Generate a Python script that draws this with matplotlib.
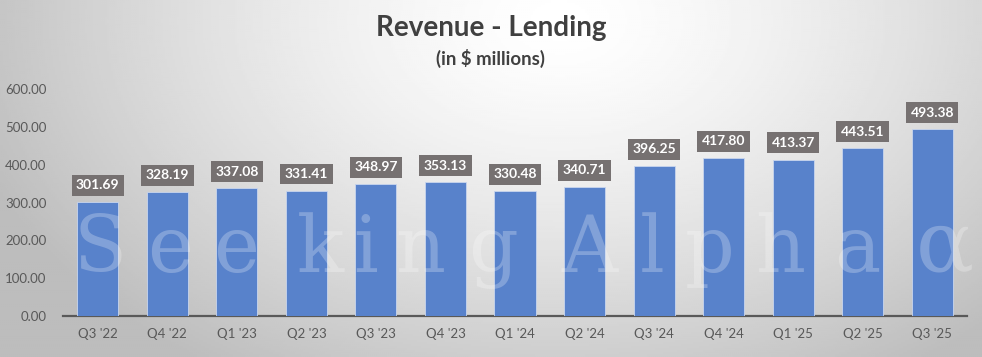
import numpy as np
import matplotlib
matplotlib.use("Agg")
import matplotlib.pyplot as plt

quarters = ["Q3 '22", "Q4 '22", "Q1 '23", "Q2 '23", "Q3 '23", "Q4 '23", "Q1 '24",
            "Q2 '24", "Q3 '24", "Q4 '24", "Q1 '25", "Q2 '25", "Q3 '25"]
revenue = [301.69, 328.19, 337.08, 331.41, 348.97, 353.13, 330.48,
           340.71, 396.25, 417.80, 413.37, 443.51, 493.38]
yticks = [0, 100, 200, 300, 400, 500, 600]

plt.rcParams["font.family"] = ["Lato", "DejaVu Sans"]

fig = plt.figure(figsize=(9.82, 3.57), dpi=100)

# radial grey background, light at the top middle
bg = fig.add_axes([0, 0, 1, 1], zorder=0)
xx, yy = np.meshgrid(np.linspace(0, 982, 491), np.linspace(0, 357, 179))
r = np.sqrt(((xx - 560) / 620) ** 2 + ((yy - 20) / 420) ** 2)
shade = np.clip(1.0 - 0.26 * r ** 1.4, 0.74, 1.0)
bg.imshow(shade, cmap="gray", vmin=0, vmax=1, extent=[0, 982, 357, 0], aspect="auto")
bg.axis("off")

# faint watermark
wm = "Seeking Alpha"
wm_x = [100, 170, 236, 320, 366, 420, 493, 590, 652, 710, 780, 857]
chars = [c for c in wm if c != " "]
for c, x in zip(chars, wm_x):
    fig.text(x / 982, 1 - 272 / 357, c, fontsize=56, family="DejaVu Serif",
             color="white", alpha=0.25, ha="center", va="baseline", zorder=5)
fig.text(945 / 982, 1 - 272 / 357, "\u03b1", fontsize=62, family="DejaVu Serif",
         color="white", alpha=0.25, ha="center", va="baseline", zorder=5)

ax = fig.add_axes([63 / 982, 1 - 316 / 357, 904 / 982, (316 - 89) / 357], zorder=2)
ax.patch.set_alpha(0)
x = np.arange(len(quarters))
ax.bar(x, revenue, width=0.59, color="#5882CB", edgecolor="#c9d6ee", linewidth=0.6, zorder=3)

for xi, v in zip(x, revenue):
    ax.annotate(f"{v:.2f}", (xi, v), xytext=(0, 12), textcoords="offset points",
                ha="center", va="center", color="white", fontsize=10, fontweight="bold",
                bbox=dict(boxstyle="square,pad=0.32", fc="#767171", ec="none"), zorder=6)

ax.set_xlim(-0.5, len(quarters) - 0.5)
ax.set_ylim(0, 600)
ax.set_xticks(x)
ax.set_xticklabels(quarters)
ax.set_yticks(yticks)
ax.set_yticklabels([f"{t:.2f}" for t in yticks])
ax.tick_params(axis="both", length=0, labelsize=9.5, colors="#595959")
ax.tick_params(axis="x", pad=9)
ax.tick_params(axis="y", pad=12)
for s in ["top", "right", "left"]:
    ax.spines[s].set_visible(False)
ax.spines["bottom"].set_color("#595959")
ax.spines["bottom"].set_linewidth(1.6)

fig.text(491 / 982, 1 - 28 / 357, "Revenue - Lending", ha="center", va="center",
         fontsize=20, fontweight="bold", color="#404040")
fig.text(491 / 982, 1 - 58 / 357, "(in $ millions)", ha="center", va="center",
         fontsize=13.4, fontweight="bold", color="#404040")

fig.savefig("out.png", dpi=100)
